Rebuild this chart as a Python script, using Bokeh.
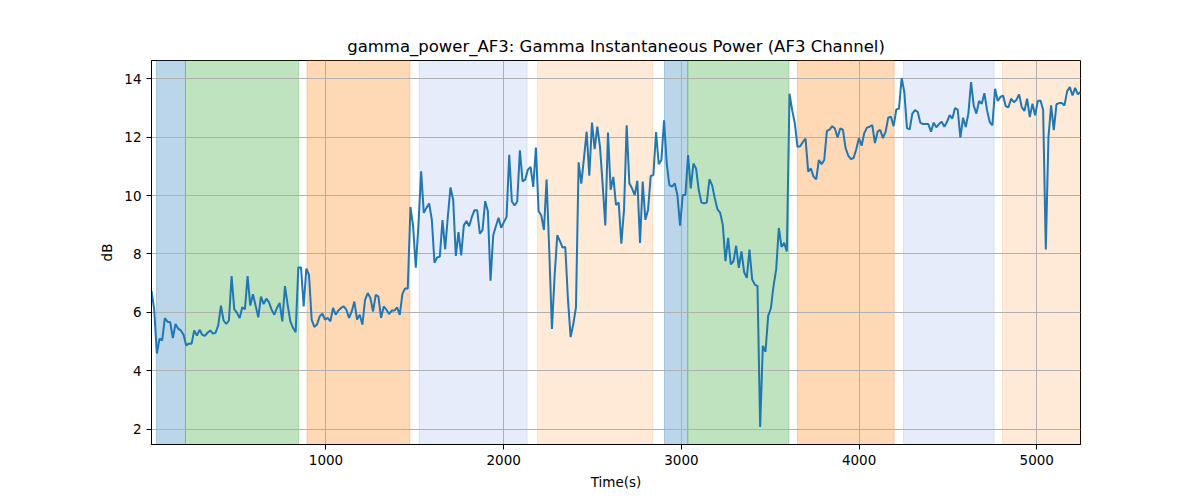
import numpy as np
from bokeh.plotting import figure
from bokeh.models import Range1d, FixedTicker, BoxAnnotation, ColumnDataSource
from bokeh.embed import file_html
from bokeh.resources import INLINE

# ---- data ----
t_start = 18
t_end = 5246

seg_a = [6.73, 6.11, 4.59, 5.1, 5.04, 5.8, 5.68, 5.66, 5.12, 5.6, 5.44, 5.38, 5.23, 4.87, 4.93, 4.92,
         5.38, 5.2, 5.4, 5.23, 5.19, 5.3, 5.38, 5.27, 5.3, 5.55, 6.23, 5.72, 5.6, 5.72, 7.24, 6.11,
         5.98, 5.8, 6.17, 6.11, 7.24, 6.23, 6.62, 6.23, 5.83, 6.54, 6.28, 6.47]
seg_b = [6.34, 6.09, 5.92, 6.15, 6.32, 5.69, 6.9, 6.26, 5.69, 5.47, 5.32, 7.54, 7.54, 6.2, 7.5, 7.28,
         5.75, 5.5, 5.58, 5.86, 5.95, 5.75, 5.81, 5.69, 6.15, 5.92, 6.06, 6.15, 6.2, 6.09, 5.81, 6.03,
         6.37, 5.75, 5.92, 5.58, 6.43, 6.66, 6.49, 6.03, 6.6, 6.54, 5.81, 6.2, 6.09]
seg_c = [5.94, 6.06, 6.06, 6.17, 5.91, 6.63, 6.82, 6.82, 9.61, 8.95, 7.53, 9.0, 10.83, 9.41, 9.58, 9.73,
         9.18, 7.7, 7.88, 7.91, 9.16, 8.16, 9.27, 10.28, 9.86, 7.93, 8.75, 7.95, 8.98, 9.13, 8.95, 9.27,
         9.5, 9.5, 8.7, 8.82, 9.81, 9.47, 7.08, 8.64, 8.95, 9.24]
seg_d = [8.9, 9.09, 9.27, 11.4, 9.8, 9.66, 9.8, 11.55, 10.49, 10.55, 10.89, 10.98, 10.3, 11.65, 9.47, 9.32,
         8.82, 10.55, 8.1, 5.43, 7.25, 8.64, 8.44, 8.22, 8.24, 6.45, 5.15, 5.6, 6.17, 11.14, 10.41, 11.28,
         12.19, 10.68, 12.5, 11.59, 12.36, 11.68, 10.38, 8.98, 12.16, 10.2, 10.64]
seg_e = [9.68, 9.76, 8.35, 9.51, 12.41, 10.42, 10.25, 10.02, 10.51, 8.38, 10.48, 9.17, 9.51, 10.67, 10.7,
         12.18, 11.08, 11.22, 12.58, 11.1, 10.36, 10.31, 10.42, 10.02, 8.97, 10.02, 10.02, 11.39, 10.25,
         11.1, 10.93, 10.19, 9.76, 9.74, 9.76, 10.56, 10.36, 9.91, 9.53, 9.42, 9.0, 7.75, 8.55, 7.64]
seg_f = [7.75, 8.28, 7.52, 8.09, 7.38, 7.18, 8.15, 7.13, 6.95, 6.9, 2.07, 4.85, 4.65, 5.88, 6.13, 6.9,
         7.47, 8.89, 8.24, 8.38, 8.09, 13.49, 12.92, 12.47, 11.67, 11.69, 11.84, 11.95, 10.82, 10.93,
         10.65, 10.56, 11.22, 11.08, 11.22, 12.22, 12.26, 12.38, 12.3, 11.99, 12.3, 12.26]
seg_g = [11.63, 11.37, 11.25, 11.29, 11.59, 11.97, 11.71, 12.14, 12.33, 12.36, 12.42, 11.8, 12.19, 12.25,
         11.97, 12.19, 12.68, 12.7, 12.38, 12.95, 12.98, 14.03, 13.55, 12.31, 12.27, 12.81, 12.93, 12.87,
         12.5, 12.45, 12.45, 12.45, 12.19, 12.5, 12.34, 12.45, 12.53, 12.36, 12.53, 12.76, 12.64, 13.0, 12.95]
seg_h = [11.99, 12.67, 12.35, 12.81, 13.89, 13.09, 12.81, 13.24, 13.15, 13.51, 12.92, 12.52, 12.41, 13.66,
         13.24, 13.38, 13.43, 13.06, 13.03, 13.32, 13.2, 13.28, 13.47, 13.03, 12.9, 13.32, 12.69, 13.15,
         12.75, 13.24, 13.26, 12.94, 8.15, 12.01, 13.09, 12.24, 13.13, 13.17, 13.17, 13.09, 13.58, 13.72,
         13.43, 13.69, 13.47, 13.55]

power_db = seg_a + seg_b + seg_c + seg_d + seg_e + seg_f + seg_g + seg_h
time_s = np.linspace(t_start, t_end, len(power_db))

band_starts = [46, 209, 893, 1524, 2190, 2905, 3036, 3653, 4250, 4807]
band_ends = [209, 846, 1472, 2132, 2839, 3036, 3605, 4197, 4760, 5300]
band_colors = ["#1f77b4", "#2ca02c", "#ff7f0e", "#3a6fd0", "#ff7f0e",
               "#1f77b4", "#2ca02c", "#ff7f0e", "#3a6fd0", "#ff7f0e"]
band_alphas = [0.3, 0.3, 0.3, 0.13, 0.16, 0.3, 0.3, 0.3, 0.13, 0.16]

x_ticks = [1000, 2000, 3000, 4000, 5000]
y_ticks = [2, 4, 6, 8, 10, 12, 14]

title_text = "gamma_power_AF3: Gamma Instantaneous Power (AF3 Channel)"

# ---- figure ----
FONT = "DejaVu Sans"
p = figure(width=1192, height=492, output_backend="svg", toolbar_location=None,
           x_range=Range1d(t_start, t_end), y_range=Range1d(1.47, 14.63),
           min_border_left=151, min_border_right=112, min_border_top=60, min_border_bottom=47)

p.title.text = title_text
p.title.align = "center"
p.title.text_font = FONT
p.title.text_font_size = "16.5px"
p.title.text_font_style = "normal"
p.title.text_color = "black"

for s, e, c, a in zip(band_starts, band_ends, band_colors, band_alphas):
    p.add_layout(BoxAnnotation(left=s, right=e, fill_color=c, fill_alpha=a,
                               line_color=c, line_alpha=a, line_width=1, level="image"))

src = ColumnDataSource(dict(t=time_s, v=power_db))
p.line("t", "v", source=src, line_color="#1f77b4", line_width=2)

p.xaxis.ticker = FixedTicker(ticks=x_ticks)
p.yaxis.ticker = FixedTicker(ticks=y_ticks)
p.xaxis.axis_label = "Time(s)"
p.yaxis.axis_label = "dB"
for ax in (p.xaxis, p.yaxis):
    ax.axis_label_text_font = FONT
    ax.axis_label_text_font_size = "13.5px"
    ax.axis_label_text_font_style = "normal"
    ax.axis_label_text_color = "black"
    ax.major_label_text_font = FONT
    ax.major_label_text_font_size = "13.5px"
    ax.major_label_text_color = "black"
    ax.minor_tick_line_color = None
    ax.major_tick_out = 5
    ax.major_tick_in = 0
    ax.major_tick_line_color = "black"
    ax.axis_line_color = "black"
    ax.axis_label_standoff = 6
p.yaxis.major_label_orientation = "horizontal"

p.xgrid.grid_line_color = "#b0b0b0"
p.ygrid.grid_line_color = "#b0b0b0"
p.xgrid.grid_line_width = 1
p.ygrid.grid_line_width = 1
p.outline_line_color = "black"
p.outline_line_width = 1
p.background_fill_color = "white"

open("out.html", "w").write(file_html(p, INLINE))
